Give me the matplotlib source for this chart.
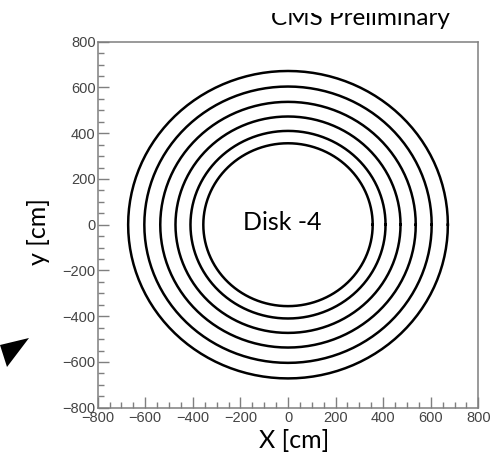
import numpy as np
import matplotlib
matplotlib.use("Agg")
import matplotlib.pyplot as plt
from matplotlib.patches import Polygon, Rectangle
from matplotlib.ticker import MultipleLocator

# radii of the rings (cm)
ring_radii = [672, 604, 537, 473, 410, 356]
x_ticks = [-800, -600, -400, -200, 0, 200, 400, 600, 800]
y_ticks = [-800, -600, -400, -200, 0, 200, 400, 600, 800]
disk_label = "Disk -4"
title_text = "CMS Preliminary"

W, H = 501, 463
fig = plt.figure(figsize=(W / 100, H / 100), dpi=100)
ax = fig.add_axes([97.7 / W, 1 - 407.7 / H, (478.3 - 97.7) / W, (407.7 - 41.7) / H])

# rings
theta = np.linspace(0, 2 * np.pi, 121)
for r in ring_radii:
    ax.plot(r * np.cos(theta), r * np.sin(theta), color="black", lw=1.8)

ax.text(-25, 10, disk_label, ha="center", va="center", fontsize=18, family="Lato")

ax.set_xlim(-800, 800)
ax.set_ylim(-800, 800)
ax.set_xticks(x_ticks)
ax.set_yticks(y_ticks)
ax.xaxis.set_minor_locator(MultipleLocator(50))
ax.yaxis.set_minor_locator(MultipleLocator(50))

frame_col = "#7f7f7f"
for s in ax.spines.values():
    s.set_color(frame_col)
    s.set_linewidth(1.1)
ax.tick_params(which="both", direction="in", color=frame_col, width=1.0,
               labelcolor="#444444", labelsize=10.5)
ax.tick_params(which="major", length=8)
ax.tick_params(which="minor", length=4.3)
ax.tick_params(axis="y", pad=1.5)
ax.tick_params(axis="x", pad=2.5)
for lab in ax.get_xticklabels() + ax.get_yticklabels():
    lab.set_family("Liberation Sans")

# axis titles
fig.text(294 / W, 1 - 440 / H, "X [cm]", ha="center", va="center", fontsize=18, family="Lato")
fig.text(39 / W, 1 - 232 / H, "y [cm]", ha="center", va="center", rotation=90,
         fontsize=18, family="Lato")

# title, top part hidden like in the screenshot
fig.text(360 / W, 1 - 25 / H, title_text, ha="center", va="baseline", fontsize=17.5,
         family="Lato")
fig.patches.append(Rectangle((0, 1 - 13 / H), 1, 13 / H, transform=fig.transFigure,
                             facecolor="white", edgecolor="none", zorder=10))

# arrow head on the left edge
tri = [(0, 1 - 345 / H), (29 / W, 1 - 338 / H), (7 / W, 1 - 367 / H)]
fig.patches.append(Polygon(tri, closed=True, transform=fig.transFigure,
                           facecolor="black", edgecolor="none"))

plt.savefig("out.png", dpi=100)
